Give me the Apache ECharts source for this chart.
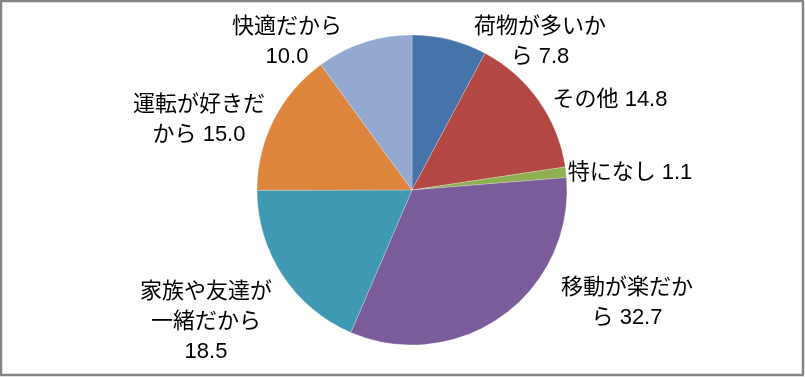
<!DOCTYPE html>
<html>
<head>
<meta charset="utf-8">
<script src="https://cdn.jsdelivr.net/npm/echarts@6/dist/echarts.min.js"></script>
<style>
  html, body { margin: 0; padding: 0; background: #fff; }
  #chart { width: 805px; height: 377px; }
</style>
</head>
<body>
<div id="chart"></div>
<script>
// データ（時計回り、上から）
var categories = ['荷物が多いから', 'その他', '特になし', '移動が楽だから', '家族や友達が一緒だから', '運転が好きだから', '快適だから'];
var values = [7.8, 14.8, 1.1, 32.7, 18.5, 15.0, 10.0];
// ラベルの改行位置（Excel の折り返しに合わせる）
var labelTexts = ['荷物が多いか\nら ', 'その他 ', '特になし ', '移動が楽だか\nら ', '家族や友達が\n一緒だから\n', '運転が好きだ\nから ', '快適だから\n'];

// 色（Excel 2007 風）
var colors = ['#4674AA', '#B34743', '#8FB050', '#7A5C9B', '#4099B3', '#DE853D', '#94A9D0'];
// ラベル中心位置（px）
var labelPos = [[540, 42], [610, 100], [630, 173], [627, 303], [206, 322], [199, 120], [287, 42]];

var chart = echarts.init(document.getElementById('chart'));

var pieData = categories.map(function (name, i) {
    return { name: name, value: values[i], itemStyle: { color: colors[i] } };
});

chart.setOption({
    animation: false,
    backgroundColor: '#fff',
    graphic: [{
        type: 'rect',
        shape: { x: 1, y: 1, width: 802, height: 374 },
        style: { fill: null, stroke: '#868686', lineWidth: 2.5 },
        silent: true
    }],
    series: [{
        type: 'pie',
        center: [412, 190],
        radius: 155,
        startAngle: 90,
        clockwise: true,
        data: pieData,
        itemStyle: { borderColor: 'rgba(255,255,255,0.4)', borderWidth: 0.6 },
        label: {
            show: true,
            position: 'outside',
            formatter: function (p) {
                return labelTexts[p.dataIndex] + p.value.toFixed(1);
            },
            color: '#000',
            fontSize: 22,
            lineHeight: 30,
            fontFamily: "'Liberation Sans', 'Noto Sans CJK JP', sans-serif",
            align: 'center'
        },
        labelLine: { show: false },
        labelLayout: function (params) {
            var p = labelPos[params.dataIndex];
            return { x: p[0], y: p[1], align: 'center', verticalAlign: 'middle' };
        },
        emphasis: { disabled: true }
    }]
});
</script>
</body>
</html>
